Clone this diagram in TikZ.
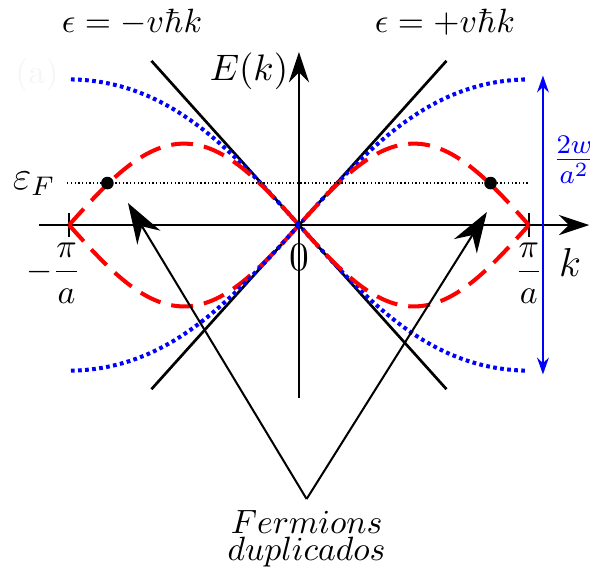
\documentclass[tikz,border=0pt]{standalone}
\usepackage{amsmath}
\usetikzlibrary{arrows.meta}
\begin{document}
\begin{tikzpicture}[scale=1, >={Stealth[length=9pt,width=6pt]}]
    % Định nghĩa màu sắc cho 2 dải năng lượng
    \definecolor{colorR}{RGB}{255, 0, 0} % Màu đỏ (sin(ka))
    \definecolor{colorB}{RGB}{0, 0, 255} % Màu xanh (Wilson)

    \useasboundingbox (-3.121,-3.622) rectangle (3.038,2.349);

    % Nhãn mờ
    \node[black!4] (lbla) at (-2.735, 1.566) {(a)};

    % 1. Trục Ox, Oy và vạch chia
    \draw[semithick, ->] (-2.714,0) -- (3.03,0);
    \draw[semithick, ->] (0,-1.806) -- (0,1.806);
    \foreach \x in {-2.4, 2.4} {
        \draw[semithick] (\x,-0.125) -- (\x,0.125);
    }

    \node[font=\fontsize{11}{13}\selectfont] (Ek) at (-0.522, 1.608) {$E(k)$};
    \node[font=\large] (zero) at (0, -0.344) {$0$};
    \node[font=\large] (klab) at (2.829, -0.386) {$k$};
    \node (pia) at (2.40, -0.50) {$\dfrac{\pi}{a}$};
    \node[anchor=east, inner sep=0] (mpia) at (-2.27, -0.50) {$-\dfrac{\pi}{a}$};

    % 2. Đường thẳng epsilon = -v hbar k và +v hbar k
    \draw[thick] (-1.54,1.714) -- (1.54,-1.714);
    \draw[thick] (1.54,1.714) -- (-1.54,-1.714);
    \node (lmin) at (-1.743, 2.115) {$\epsilon = -v\hbar k$};
    \node (lplus) at (1.524, 2.115) {$\epsilon = +v\hbar k$};

    % 3. Hai dải: xanh chấm, đỏ gạch
    \foreach \s in {1,-1} {
        \draw[colorB, line width=1.2pt, dash pattern=on 1.1pt off 1pt, domain=-2.38:2.38, samples=120, smooth]
            plot (\x, {\s*sqrt((0.85*sin(75*\x))^2 + (0.76*(1-cos(75*\x)))^2)});
        \draw[colorR, line width=1.2pt, dash pattern=on 6.5pt off 3.3pt, domain=-2.4:2.4, samples=120, smooth]
            plot (\x, {\s*0.85*sin(75*\x)});
    }

    % Độ rộng dải 2w/a^2
    \draw[colorB, semithick, <->, >={Stealth[length=5pt,width=3.5pt]}] (2.547,-1.56) -- (2.547,1.56);
    \node[colorB, font=\large, anchor=west, inner sep=0] (wlab) at (2.64, 0.678) {$\frac{2w}{a^2}$};

    % 4. Mức Fermi
    \node[left, font=\large] (epsF) at (-2.42, 0.43) {$\varepsilon_F$};
    \draw[line width=0.4pt, dash pattern=on 0.4pt off 0.7pt] (-2.42, 0.438) -- (2.41, 0.438);
    \fill (-2.0, 0.438) circle (0.066);
    \fill (2.0, 0.438) circle (0.066);

    % 5. Chú thích fermion
    \node[anchor=north, align=center] (fd) at (0.08, -2.86) {$Fermions$\\[-4pt]$duplicados$};
    \coordinate (tipL) at (-1.785, 0.230);
    \coordinate (tipR) at (1.962, 0.136);
    \draw[semithick, ->, >={Stealth[length=12pt,width=8pt]}] (fd.north) -- (tipL);
    \draw[semithick, ->, >={Stealth[length=12pt,width=8pt]}] (fd.north) -- (tipR);

\end{tikzpicture}
\end{document}
